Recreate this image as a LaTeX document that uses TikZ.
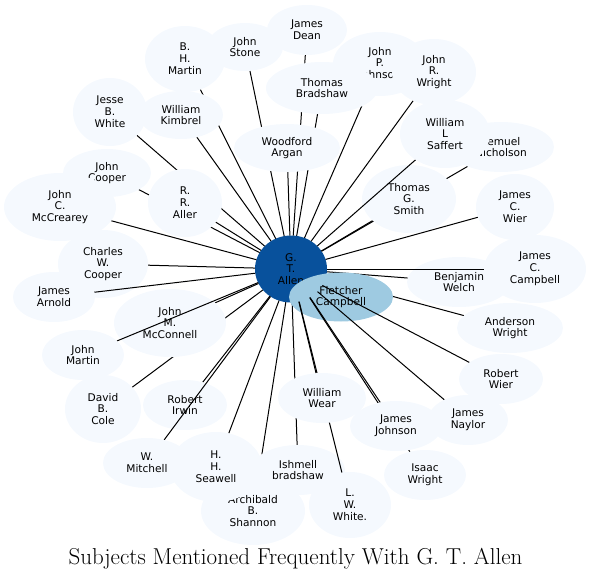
\documentclass[tikz,border=0pt]{standalone}
\usepackage{fontspec}
\newfontfamily\dv{DejaVu Sans}
\usetikzlibrary{shapes.geometric}
\definecolor{pale}{HTML}{F5F9FE}
\definecolor{gtablue}{HTML}{08519C}
\definecolor{fcblue}{HTML}{9ECAE1}
\tikzset{
  shp/.style={ellipse, inner sep=0pt, outer sep=0pt},
  lbl/.style={font=\dv\fontsize{10.6}{11.8}\selectfont, align=center, inner sep=0pt, text=black},
  edge/.style={draw=black, line width=1pt}
}
\def\plist{jd/307/30/80/50/pale/{James\\Dean},
js/245/47/76/48/pale/{John\\Stone},
bhm/185/59/80/66/pale/{B.\\H.\\Martin},
jpj/380/64/94/64/pale/{John\\P.\\Johnson},
tb/322/88/112/52/pale/{Thomas\\Bradshaw},
jrw/434/72/84/66/pale/{John\\R.\\Wright},
wa/287/148/106/48/pale/{Woodford\\Argan},
wk/181/115/84/48/pale/{William\\Kimbrel},
jbw/110/112/74/68/pale/{Jesse\\B.\\White},
jc/107/173/88/48/pale/{John\\Cooper},
rra/185/203/74/68/pale/{R.\\R.\\Aller},
jcm/60/207/112/68/pale/{John\\C.\\McCrearey},
ln/501/147/106/50/pale/{Lemuel\\Nicholson},
tgs/409/199/94/68/pale/{Thomas\\G.\\Smith},
wls/445/134/90/68/pale/{William\\L\\Saffert},
jcw/515/207/78/66/pale/{James\\C.\\Wier},
cwc/103/264/90/68/pale/{Charles\\W.\\Cooper},
ja/54/297/82/50/pale/{James\\Arnold},
bw/459/282/104/50/pale/{Benjamin\\Welch},
jcc/535/269/102/68/pale/{James\\C.\\Campbell},
aw/510/328/106/50/pale/{Anderson\\Wright},
dbc/103/409/76/68/pale/{David\\B.\\Cole},
jmm/170/323/112/68/pale/{John\\M.\\McConnell},
jm/83/355/82/50/pale/{John\\Martin},
ri/185/405/84/50/pale/{Robert\\Irwin},
wm/147/463/88/50/pale/{W.\\Mitchell},
abs/253/511/104/68/pale/{Archibald\\B.\\Shannon},
hhs/216/467/92/70/pale/{H.\\H.\\Seawell},
ib/298/470/94/50/pale/{Ishmell\\bradshaw},
fc/341/297/104/49/fcblue/{Fletcher\\Campbell},
lww/350/505/82/66/pale/{L.\\W.\\White.},
ww/322/398/88/50/pale/{William\\Wear},
iw/425/475/82/50/pale/{Isaac\\Wright},
jj/396/426/92/50/pale/{James\\Johnson},
jn/468/420/80/50/pale/{James\\Naylor},
rw/501/379/84/50/pale/{Robert\\Wier}}
\begin{document}
\begin{tikzpicture}[x=1pt,y=-1pt]
\useasboundingbox (0,0) rectangle (592,581);
% central node
\node[shp, fill=gtablue, minimum width=72pt, minimum height=67pt] (gta) at (291,269) {};
\node[lbl] (gtat) at (gta) {G.\\T.\\Allen};
% pass 1: named outlines (invisible)
\foreach \n/\x/\y/\w/\h/\c/\t in \plist {
  \node[shp, minimum width=\w pt, minimum height=\h pt] (\n) at (\x,\y) {};
}
% pass 2: connector, then node, in drawing order
\foreach \n/\x/\y/\w/\h/\c/\t in \plist {
  \draw[edge] (gta) -- (\n);
  \node[shp, fill=\c, minimum width=\w pt, minimum height=\h pt] at (\n.center) {};
  \node[lbl] at (\n.center) {\t};
}
\node[font=\fontsize{23}{27}\selectfont, inner sep=0pt] (title) at (295.5,559) {Subjects Mentioned Frequently With G. T. Allen};
\end{tikzpicture}
\end{document}
